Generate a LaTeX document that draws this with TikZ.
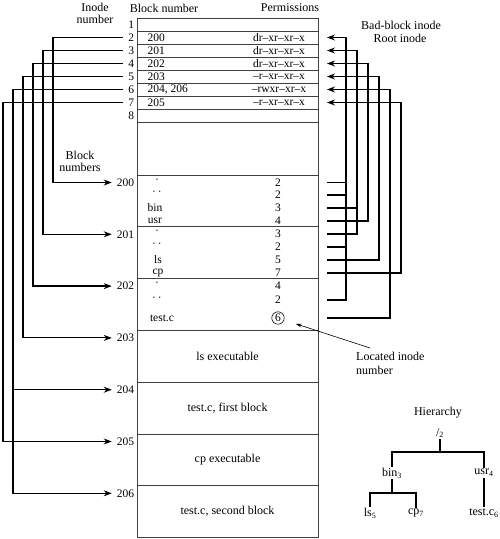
\documentclass[tikz,border=0pt]{standalone}
\usepackage{fontspec}
\setmainfont{Liberation Serif}
\usetikzlibrary{arrows.meta}
\begin{document}
\begin{tikzpicture}[x=1pt,y=-1pt,
  lab/.style={font=\fontsize{11.5}{12}\selectfont, inner sep=0pt, outer sep=5pt},
  txt/.style={font=\fontsize{12}{14}\selectfont, inner sep=1pt},
  ttx/.style={font=\fontsize{11.5}{12}\selectfont, inner sep=0.5pt},
  cell/.style={draw=black!75, line width=0.75pt, minimum width=181pt, inner sep=0pt, font=\fontsize{12}{14}\selectfont},
  conn/.style={line width=1.1pt},
  heavy/.style={line width=1.9pt},
  arr/.style={-{Stealth[length=8pt,width=6pt]}},
  circ/.style={draw, circle, line width=0.6pt, inner sep=1pt, font=\fontsize{11.5}{12}\selectfont}]
\useasboundingbox (0,0) rectangle (500,539);

% headers
\node[txt, align=center] (hinode) at (95,13) {Inode\\[-2pt]number};
\node[txt] (hblock) at (164,8) {Block number};
\node[txt] (hperm) at (290,8) {Permissions};
\node[txt] (hbad) at (401,25) {Bad-block inode};
\node[txt] (hroot) at (400,38) {Root inode};
\node[txt, align=center] (hbn) at (80,161) {Block\\[-2pt]numbers};

% inode table rows
\foreach \k in {1,...,8}{
  \node[cell, minimum height=13pt] (r\k) at (227.5,{24.5+13*(\k-1)}) {};
  \node[lab, anchor=east] (i\k) at (139,{24.5+13*(\k-1)}) {\k};
}
\foreach \k/\b/\p in {2/200/dr–xr–xr–x, 3/201/dr–xr–xr–x, 4/202/dr–xr–xr–x, 5/203/–r–xr–xr–x, 6/{204, 206}/–rwxr–xr–x, 7/205/–r–xr–xr–x}{
  \node[ttx, anchor=west] (bn\k) at (147,{24.5+13*(\k-1)}) {\b};
  \node[ttx] (pm\k) at (279,{24.5+13*(\k-1)}) {\p};
}
\node[cell, minimum height=53pt] (gap) at (227.5,148.5) {};

% data blocks
\foreach \n/\j/\t in {200/0/, 201/1/, 202/2/, 203/3/ls executable, 204/4/{test.c, first block}, 205/5/cp executable, 206/6/{test.c, second block}}{
  \node[cell, minimum height=51.8pt] (blk\n) at (227.5,{175+51.8*\j+25.9}) {\t};
  \node[lab, anchor=east] (b\n) at (139,{175+51.8*\j+7.5}) {\n};
}

% directory entries
\node[ttx] (d200a) at (157,181) {·};
\node[ttx] (d200b) at (157,193.5) {·\,·};
\node[ttx] (d200c) at (155,208) {bin};
\node[ttx] (d200d) at (155,221) {usr};
\node[ttx] (n200a) at (278,182.5) {2};
\node[ttx] (n200b) at (278,195) {2};
\node[ttx] (n200c) at (278,208) {3};
\node[ttx] (n200d) at (278,221) {4};

\node[ttx] (d201a) at (157,232.5) {·};
\node[ttx] (d201b) at (157,245.5) {·\,·};
\node[ttx] (d201c) at (158,260) {ls};
\node[ttx] (d201d) at (158,273) {cp};
\node[ttx] (n201a) at (278,234) {3};
\node[ttx] (n201b) at (278,247) {2};
\node[ttx] (n201c) at (278,260) {5};
\node[ttx] (n201d) at (278,273) {7};

\node[ttx] (d202a) at (157,284.5) {·};
\node[ttx] (d202b) at (157,299) {·\,·};
\node[ttx] (d202c) at (162,318) {test.c};
\node[ttx] (n202a) at (278,286) {4};
\node[ttx] (n202b) at (278,300) {2};
\node[circ] (n202c) at (278,318) {6};

% vertical line positions
\coordinate (L2) at (53,0);
\coordinate (L3) at (43,0);
\coordinate (L4) at (33,0);
\coordinate (L5) at (23,0);
\coordinate (L6) at (13,0);
\coordinate (L7) at (3,0);
\coordinate (RX) at (327,0);
\coordinate (V2) at (346,0);
\coordinate (V3) at (357,0);
\coordinate (V4) at (368,0);
\coordinate (V5) at (379,0);
\coordinate (V6) at (390,0);
\coordinate (V7) at (401,0);

% inode -> block connectors (left)
\draw[heavy,arr] (i2.west) -- (i2 -| L2) -- (b200 -| L2) -- (b200.west);
\draw[conn,arr] (i3.west) -- (i3 -| L3) -- (b201 -| L3) -- (b201.west);
\draw[heavy,arr] (i4.west) -- (i4 -| L4) -- (b202 -| L4) -- (b202.west);
\draw[conn,arr] (i5.west) -- (i5 -| L5) -- (b203 -| L5) -- (b203.west);
\draw[conn,arr] (i6.west) -- (i6 -| L6) -- (b206 -| L6) -- (b206.west);
\draw[conn,arr] (b204 -| L6) -- (b204.west);
\draw[conn,arr] (i7.west) -- (i7 -| L7) -- (b205 -| L7) -- (b205.west);

% directory entry -> inode connectors (right)
\draw[conn,arr] (n202b -| RX) -- (n202b -| V2) -- (r2 -| V2) -- (r2 -| RX);
\draw[conn] (n200a -| RX) -- (n200a -| V2);
\draw[conn] (n200b -| RX) -- (n200b -| V2);
\draw[conn] (n201b -| RX) -- (n201b -| V2);
\draw[conn,arr] (n201a -| RX) -- (n201a -| V3) -- (r3 -| V3) -- (r3 -| RX);
\draw[conn] (n200c -| RX) -- (n200c -| V3);
\draw[heavy,arr] (n200d -| RX) -- (n200d -| V4) -- (r4 -| V4) -- (r4 -| RX);
\draw[conn,arr] (n201c -| RX) -- (n201c -| V5) -- (r5 -| V5) -- (r5 -| RX);
\draw[conn,arr] (n202c -| RX) -- (n202c -| V6) -- (r6 -| V6) -- (r6 -| RX);
\draw[conn,arr] (n201d -| RX) -- (n201d -| V7) -- (r7 -| V7) -- (r7 -| RX);

% located inode label
\node[txt, align=left, anchor=north west] (loc) at (355,351) {Located inode\\number};
\draw[line width=0.6pt, -{Stealth[length=6pt,width=3.5pt]}, shorten >=12pt] ([xshift=15pt,yshift=3pt]loc.north west) -- (n202c);

% hierarchy
\node[txt] (hier) at (438,413) {Hierarchy};
\node[txt] (root) at (440,433) {/\textsubscript{2}};
\node[txt] (bin) at (392,473) {bin\textsubscript{3}};
\node[txt] (usr) at (484,473) {usr\textsubscript{4}};
\node[txt] (ls) at (370,513) {ls\textsubscript{5}};
\node[txt] (cp) at (416,513) {cp\textsubscript{7}};
\node[txt] (testc) at (484,513) {test.c\textsubscript{6}};
\coordinate (J1) at (0,452);
\coordinate (J2) at (0,493);
\draw[conn] (root.south) -- (root.south |- J1);
\draw[conn] (bin.north) |- (usr.north |- J1) -- (usr.north);
\draw[conn] (bin.south) -- (bin.south |- J2);
\draw[conn] (ls.north) |- (cp.north |- J2) -- (cp.north);
\draw[conn] (usr.south) -- (testc.north);
\end{tikzpicture}
\end{document}
